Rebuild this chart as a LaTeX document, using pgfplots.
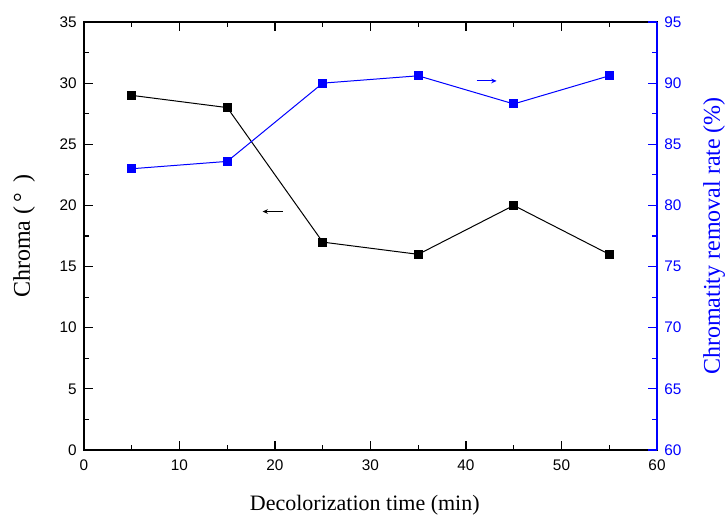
\documentclass[border=0pt]{standalone}
\usepackage{fontspec}
\setmainfont{Liberation Serif}
\setsansfont{Liberation Sans}
\usepackage{pgfplots}
\pgfplotsset{compat=1.18}
\usetikzlibrary{arrows.meta}
\begin{document}
\begin{tikzpicture}
\useasboundingbox (-63pt,-49.5pt) rectangle (483pt,337.5pt);
\pgfplotsset{every axis/.append style={
  scale only axis, width=429.75pt, height=321pt,
  at={(0,0)}, anchor=south west,
  xmin=0, xmax=60,
  tick align=inside,
  major tick length=6.5pt, minor tick length=3.5pt,
  /pgf/number format/assume math mode=true,
  tick label style={font=\sffamily\fontsize{11.5}{13}\selectfont},
  label style={font=\fontsize{18}{20}\selectfont},
  axis line style={line width=1pt},
  every tick/.style={line width=0.8pt},
}}
\begin{axis}[
  ymin=0, ymax=35,
  ytick={0,5,...,35}, minor ytick={2.5,7.5,...,32.5},
  xtick={0,10,...,60}, minor xtick={5,15,...,55},
  xtick pos=both, xticklabel pos=lower,
  ytick pos=left,
  xticklabel style={yshift=-4pt},
  yticklabel style={xshift=-2pt},
  xlabel={Decolorization time (min)},
  ylabel={Chroma (\,°\hspace{0.45em})},
  xlabel style={font=\fontsize{16.5}{18}\selectfont, at={(axis description cs:0.49,-0.1285)}, anchor=center},
  ylabel style={at={(axis description cs:-0.1047,0.5)}, anchor=center, rotate=0},
]
\addplot[black, line width=0.75pt, mark=square*, mark size=3pt, mark options={solid}]
  coordinates {(5,29) (15,28) (25,17) (35,16) (45,20) (55,16)};
\draw[-{Stealth[length=4pt,width=3.5pt]}, line width=0.75pt] (axis cs:20.8,19.5) -- (axis cs:18.7,19.5);
\end{axis}
\begin{axis}[
  ymin=60, ymax=95,
  ytick={60,65,...,95}, minor ytick={62.5,67.5,...,92.5},
  axis x line=none, axis y line*=right,
  y axis line style={blue, line width=1pt},
  ytick style={blue},
  yticklabel style={blue, xshift=2pt},
  ylabel={Chromatity removal rate (\%)},
  ylabel style={blue, at={(axis description cs:1.0995,0.5)}, anchor=center, rotate=0},
]
\addplot[blue, line width=0.75pt, mark=square*, mark size=3pt, mark options={solid}]
  coordinates {(5,83.0) (15,83.6) (25,90.0) (35,90.6) (45,88.3) (55,90.6)};
\draw[blue, -{Stealth[length=4pt,width=3.5pt]}, line width=0.75pt] (axis cs:41.1,90.18) -- (axis cs:43.2,90.18);
\end{axis}
\end{tikzpicture}
\end{document}
